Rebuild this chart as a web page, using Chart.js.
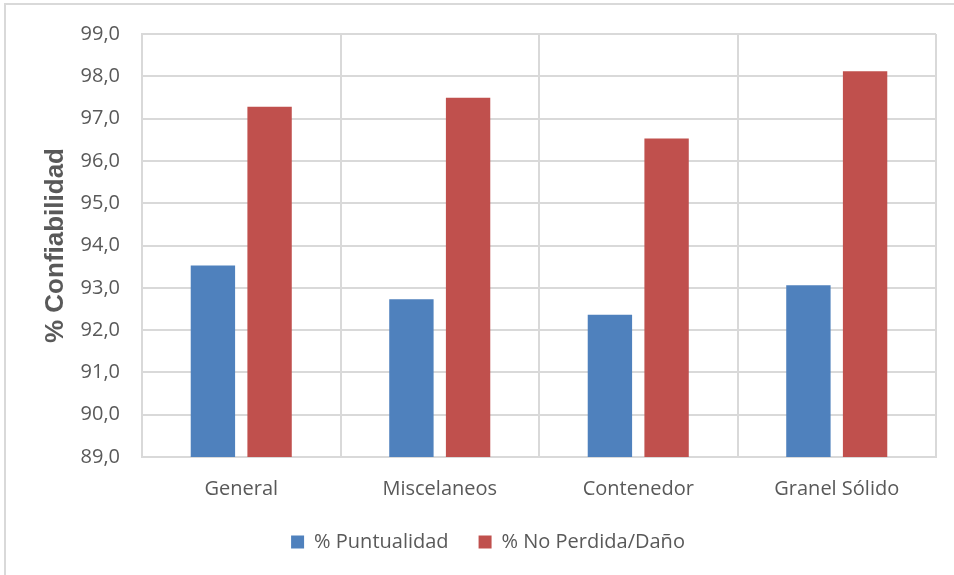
<!DOCTYPE html>
<html>
<head>
<meta charset="utf-8">
<script src="https://cdn.jsdelivr.net/npm/chart.js@4.4.0/dist/chart.umd.min.js"></script>
<style>
  html, body { margin: 0; padding: 0; background: #ffffff; }
  #wrap { position: relative; width: 954px; height: 575px; overflow: hidden; }
  #frame { position: absolute; left: 4px; top: 3px; width: 1200px; height: 800px; border: 2px solid #d9d9d9; box-sizing: border-box; }
  canvas { position: absolute; left: 0; top: 0; }
</style>
</head>
<body>
<div id="wrap">
  <div id="frame"></div>
  <canvas id="c" width="954" height="575"></canvas>
</div>
<script>
const categories = ["General", "Miscelaneos", "Contenedor", "Granel Sólido"];
const puntualidad = [93.53, 92.73, 92.36, 93.06];
const noPerdida = [97.28, 97.49, 96.53, 98.12];
const seriesNames = ["% Puntualidad", "% No Perdida/Daño"];
const yMin = 89, yMax = 99, yStep = 1;
const yTitle = "% Confiabilidad";

const gridColor = "#d9d9d9";
const textColor = "#595959";
const tickFont = { family: "'Open Sans', sans-serif", size: 20 };

new Chart(document.getElementById('c'), {
  type: 'bar',
  data: {
    labels: categories,
    datasets: [
      { label: seriesNames[0], data: puntualidad, backgroundColor: '#4f81bd',
        categoryPercentage: 0.571, barPercentage: 0.783 },
      { label: seriesNames[1], data: noPerdida, backgroundColor: '#c0504d',
        categoryPercentage: 0.571, barPercentage: 0.783 }
    ]
  },
  options: {
    responsive: false,
    animation: false,
    devicePixelRatio: 1,
    layout: { padding: { left: 40, right: 18, top: 33, bottom: 13 } },
    plugins: {
      tooltip: { enabled: false },
      legend: {
        position: 'bottom',
        labels: {
          color: textColor,
          font: tickFont,
          boxWidth: 13,
          boxHeight: 13,
          padding: 30
        }
      }
    },
    scales: {
      x: {
        grid: { color: gridColor, lineWidth: 2, drawTicks: false, offset: true },
        border: { color: gridColor, width: 2 },
        ticks: { color: textColor, font: tickFont, padding: 20, maxRotation: 0 },
        afterFit: (s) => { s.height = 45; }
      },
      y: {
        min: yMin, max: yMax,
        grid: { color: gridColor, lineWidth: 2, drawTicks: false },
        border: { color: gridColor, width: 2 },
        ticks: {
          stepSize: yStep, color: textColor, font: tickFont, padding: 22,
          callback: (v) => v.toFixed(1).replace('.', ',')
        },
        title: {
          display: true, text: yTitle, color: textColor,
          font: { family: "'Liberation Sans', Arial, sans-serif", size: 26, weight: 'bold', lineHeight: 1.2 },
          padding: 0
        },
        afterFit: (s) => { s.width = 102; }
      }
    }
  }
});
</script>
</body>
</html>
